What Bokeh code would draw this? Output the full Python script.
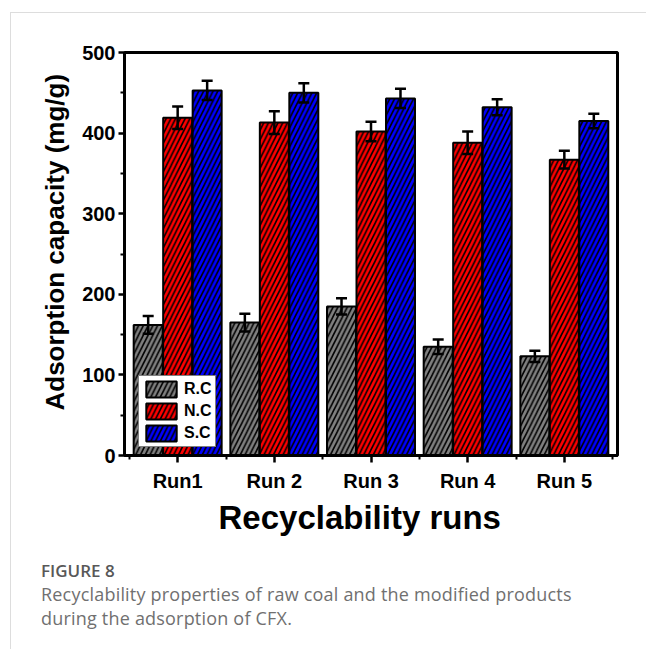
from bokeh.plotting import figure
from bokeh.models import (ColumnDataSource, Whisker, TeeHead, FixedTicker, Legend,
                          LegendItem, Title, Div)
from bokeh.layouts import column
from bokeh.embed import file_html
from bokeh.resources import INLINE

runs = ["Run1", "Run 2", "Run 3", "Run 4", "Run 5"]
series = ["R.C", "N.C", "S.C"]
rc = [162, 165, 185, 135, 123]
nc = [419, 413, 402, 388, 367]
sc = [453, 450, 443, 432, 415]
rc_err = [11, 11, 10, 9, 7]
nc_err = [14, 14, 12, 14, 11]
sc_err = [12, 12, 12, 10, 9]
colors = ["#808080", "#ff0000", "#0000ff"]
x_title = "Recyclability runs"
y_title = "Adsorption capacity (mg/g)"
fig_label = "FIGURE 8"
caption_1 = "Recyclability properties of raw coal and the modified products"
caption_2 = "during the adsorption of CFX."

FONT = "Liberation Sans"

p = figure(width=635, height=542, output_backend="svg", toolbar_location=None,
           x_range=(0.45, 5.55), y_range=(0, 500),
           min_border_left=113, min_border_right=29, min_border_top=39,
           min_border_bottom=100, background_fill_color="white",
           border_fill_color="white")

p.grid.visible = False
p.outline_line_color = "black"
p.outline_line_width = 3

xs = list(range(1, len(runs) + 1))
offsets = [-0.305, 0.0, 0.305]
vals = [rc, nc, sc]
errs = [rc_err, nc_err, sc_err]
renderers = []
for k in range(3):
    x = [xi + offsets[k] for xi in xs]
    src = ColumnDataSource(dict(x=x, top=vals[k],
                                upper=[v + e for v, e in zip(vals[k], errs[k])],
                                lower=[v - e for v, e in zip(vals[k], errs[k])]))
    r = p.vbar(x="x", top="top", width=0.3, bottom=0, source=src,
               fill_color=colors[k], line_color="black", line_width=2,
               hatch_pattern="/", hatch_color="black", hatch_scale=9.5,
               hatch_weight=1.6)
    renderers.append(r)
    w = Whisker(source=src, base="x", upper="upper", lower="lower",
                line_color="black", line_width=2.5, level="annotation",
                upper_head=TeeHead(size=11, line_width=2.5, line_color="black"),
                lower_head=TeeHead(size=11, line_width=2.5, line_color="black"))
    p.add_layout(w)

legend = Legend(items=[LegendItem(label=series[k], renderers=[renderers[k]]) for k in range(3)],
                location=(14, 8), glyph_width=38, glyph_height=20, spacing=2,
                padding=3, margin=0, label_standoff=4,
                label_text_font=FONT, label_text_font_style="bold",
                label_text_font_size="16px", label_text_color="black",
                border_line_color="black",
                border_line_width=1.5, background_fill_color="white",
                background_fill_alpha=1)
p.add_layout(legend, "center")

# X axis
xa = p.xaxis[0]
xa.ticker = FixedTicker(ticks=xs, minor_ticks=[0.5, 1.5, 2.5, 3.5, 4.5, 5.5])
xa.major_label_overrides = {i + 1: runs[i] for i in range(len(runs))}
xa.major_label_text_font = FONT
xa.major_label_text_font_style = "bold"
xa.major_label_text_font_size = "20px"
xa.major_label_text_color = "black"
xa.major_label_standoff = 7
xa.axis_line_width = 3
xa.major_tick_line_width = 2.5
xa.minor_tick_line_width = 2
xa.major_tick_out = 7
xa.major_tick_in = 0
xa.minor_tick_out = 4
xa.minor_tick_in = 0

# Y axis
ya = p.yaxis[0]
ya.ticker = FixedTicker(ticks=[0, 100, 200, 300, 400, 500],
                        minor_ticks=[50, 150, 250, 350, 450])
ya.major_label_text_font = FONT
ya.major_label_text_font_style = "bold"
ya.major_label_text_font_size = "20px"
ya.major_label_text_color = "black"
ya.major_label_standoff = 3
ya.axis_line_width = 3
ya.major_tick_line_width = 2.5
ya.minor_tick_line_width = 2
ya.major_tick_out = 6
ya.major_tick_in = 0
ya.minor_tick_out = 4
ya.minor_tick_in = 0

# axis titles as side-panel titles (allow off-centre placement)
p.add_layout(Title(text=y_title, align="left", offset=45, standoff=20,
                   text_font=FONT, text_font_style="bold",
                   text_font_size="26px", text_color="black"), "left")
p.add_layout(Title(text=x_title, align="left", offset=94, standoff=4,
                   text_font=FONT, text_font_style="bold",
                   text_font_size="33px", text_color="black"), "below")

div = Div(text=(
    '<div style="font-family:\'Open Sans\';font-size:17px;font-weight:600;'
    'color:#585858;line-height:24px;">' + fig_label + '</div>'
    '<div style="font-family:\'Open Sans\';font-size:18px;color:#707070;'
    'letter-spacing:0.2px;line-height:23.5px;white-space:nowrap;">'
    + caption_1 + '<br>' + caption_2 + '</div>'),
    width=600, height=90, margin=(4, 0, 0, 30))

layout = column(p, div, margin=(12, 0, 0, 10),
                styles={"border-left": "1px solid #dddddd",
                        "border-top": "1px solid #dddddd"})

open("out.html", "w").write(file_html(layout, INLINE))
